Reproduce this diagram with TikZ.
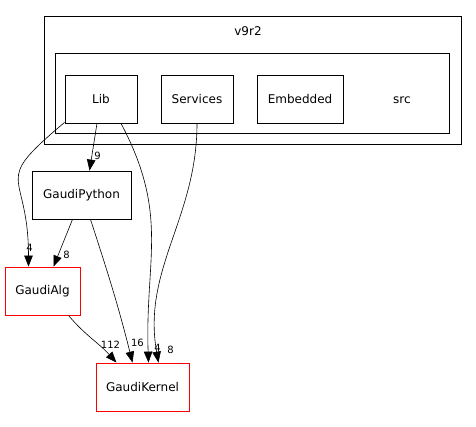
\documentclass[tikz,border=0pt]{standalone}
\usepackage{fontspec}
\setmainfont{DejaVu Sans}
\usetikzlibrary{arrows.meta}
\tikzset{x=1pt, y=1pt, % one unit is one pixel of the picture
>={Triangle[length=11pt, width=8.5pt]}, % filled arrow heads
every edge/.append style={->, line width=0.6pt}, % makes the edges directed
dir/.style={draw, line width=0.8pt, minimum height=48pt, inner sep=0pt, font=\fontsize{12}{14}\selectfont}, % a directory box
ext/.style={dir, draw=red}, % a directory outside of the package
cluster/.style={draw, line width=0.8pt}, % the frame round a group of directories
lbl/.style={font=\fontsize{10}{11}\selectfont, inner sep=0pt}, % the number on an edge
}

\begin{document}
\begin{tikzpicture}
    \useasboundingbox (0,0) rectangle (476,-426);
    % frames
    \node[cluster, minimum width=417pt, minimum height=128pt] (v9r2) at (252.5,-80) {};
    \node[font=\fontsize{12}{14}\selectfont] (v9r2lbl) at (248,-31) {v9r2};
    \node[cluster, minimum width=394pt, minimum height=80pt] (src) at (252,-93) {};
    \node[font=\fontsize{12}{14}\selectfont] (srclbl) at (402,-100) {src};
    % directories
    \node[dir, minimum width=72pt] (lib) at (101,-99) {Lib};
    \node[dir, minimum width=72pt] (services) at (197,-99) {Services};
    \node[dir, minimum width=86pt] (embedded) at (300,-99) {Embedded};
    \node[dir, minimum width=99pt] (gaudipython) at (81.5,-195) {GaudiPython};
    \node[ext, minimum width=75pt] (gaudialg) at (42.5,-291) {GaudiAlg};
    \node[ext, minimum width=93pt] (gaudikernel) at (142.5,-387) {GaudiKernel};
    \path
    ([xshift=-4pt]lib.south) edge node[lbl, at end, xshift=8pt, yshift=15pt]{9} ([xshift=8pt]gaudipython.north)
    ([yshift=1pt]lib.south west) edge[out=-140, in=90, looseness=1.7] node[lbl, at end, xshift=1pt, yshift=19pt]{4} ([xshift=-14pt]gaudialg.north)
    ([xshift=20pt]lib.south) edge[out=-62, in=92, looseness=1.1] node[lbl, at end, xshift=9pt, yshift=15pt]{4} ([xshift=6pt]gaudikernel.north)
    (services.south) edge[out=-90, in=100, looseness=1.0] node[lbl, at end, xshift=12pt, yshift=13pt]{8} ([xshift=16pt]gaudikernel.north)
    ([xshift=-9pt]gaudipython.south) edge node[lbl, at end, xshift=13pt, yshift=12pt]{8} ([xshift=11pt]gaudialg.north)
    ([xshift=9pt]gaudipython.south) edge[out=-72, in=104] node[lbl, at end, xshift=5pt, yshift=20pt]{16} ([xshift=-10pt]gaudikernel.north)
    ([xshift=26pt]gaudialg.south) edge[out=-50, in=132] node[lbl, at end, xshift=-6pt, yshift=18pt]{112} ([xshift=-26pt]gaudikernel.north)
    ;
\end{tikzpicture}
\end{document}
